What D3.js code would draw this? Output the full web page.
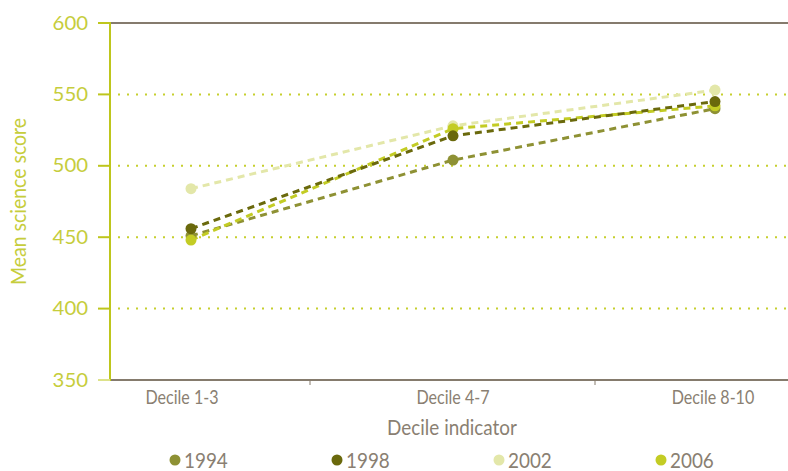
<!DOCTYPE html>
<html><head><meta charset="utf-8">
<script src="https://cdn.jsdelivr.net/npm/d3@7"></script>
<style>body{margin:0;background:#fff}svg{display:block}</style>
</head><body><svg id="c" width="788" height="471"></svg>
<script>
const categories = ["Decile 1-3", "Decile 4-7", "Decile 8-10"];
const years = ["1994", "1998", "2002", "2006"];
const v1994 = [451, 504, 540];
const v1998 = [456, 521, 545];
const v2002 = [484, 528, 553];
const v2006 = [448, 526, 542];
const yTicks = [350, 400, 450, 500, 550, 600];
const colors = {"1994":"#8e9134","1998":"#6a690c","2002":"#e3e7a9","2006":"#c3cc24"};
const seriesValues = {"1994":v1994,"1998":v1998,"2002":v2002,"2006":v2006};
const drawOrder = ["2002","1994","2006","1998"];

const svg = d3.select("#c");
const font = "Lato, 'Open Sans', sans-serif";
const L = 110, R = 788, T = 23, B = 380;
const y = d3.scaleLinear().domain([350, 600]).range([B, T]);
const x = d3.scalePoint().domain(categories).range([191, 715]);
const xb = d3.scaleBand().domain(categories).range([25, 880]);

// gridlines
svg.append("g").selectAll("line").data(yTicks.filter(t => t > 350 && t < 600)).join("line")
  .attr("x1", L + 8).attr("x2", R).attr("y1", d => y(d)).attr("y2", d => y(d))
  .attr("stroke", "#c6cf2e").attr("stroke-width", 2).attr("stroke-dasharray", "2 7");

// top line
svg.append("line").attr("x1", L).attr("x2", R).attr("y1", T).attr("y2", T)
  .attr("stroke", "#857b6d").attr("stroke-width", 2);
// bottom axis
svg.append("line").attr("x1", L).attr("x2", R).attr("y1", B).attr("y2", B)
  .attr("stroke", "#857b6d").attr("stroke-width", 2);
// x ticks
svg.append("g").selectAll("line").data(categories.slice(1)).join("line")
  .attr("x1", d => xb(d)).attr("x2", d => xb(d)).attr("y1", B).attr("y2", B + 5)
  .attr("stroke", "#857b6d").attr("stroke-width", 1);
// y axis
svg.append("line").attr("x1", L).attr("x2", L).attr("y1", T - 1).attr("y2", B + 1)
  .attr("stroke", "#bec61d").attr("stroke-width", 2);
svg.append("g").selectAll("line").data(yTicks).join("line")
  .attr("x1", 98).attr("x2", L).attr("y1", d => y(d)).attr("y2", d => y(d))
  .attr("stroke", d => d === 350 ? "#dde28a" : "#bec61d").attr("stroke-width", 2);
svg.append("g").selectAll("text").data(yTicks).join("text")
  .attr("transform", d => `translate(88,${y(d) + 6.5}) scale(1.1,1)`).attr("text-anchor", "end")
  .attr("font-family", font).attr("font-size", 18.5).attr("fill", "#c6cd3c")
  .text(d => d);

// x labels
svg.append("g").selectAll("text").data(categories).join("text")
  .attr("transform", (d, i) => `translate(${x(d) + (i === 0 ? -9 : (i === 2 ? -2 : 0))},404) scale(0.87,1)`)
  .attr("text-anchor", "middle").attr("font-family", font).attr("font-size", 18.5)
  .attr("fill", "#8a7f72").text(d => d);

svg.append("text").attr("transform", "translate(452,435) scale(0.9,1)").attr("text-anchor", "middle")
  .attr("font-family", font).attr("font-size", 21).attr("fill", "#8a7f72")
  .text("Decile indicator");
svg.append("text").attr("transform", `translate(26,${(T + B) / 2}) rotate(-90) scale(0.95,1)`)
  .attr("text-anchor", "middle").attr("font-family", font).attr("font-size", 20.5)
  .attr("fill", "#c6cd3c").text("Mean science score");

// series
const line = d3.line().x((d, i) => x(categories[i])).y(d => y(d));
drawOrder.forEach(yr => {
  const vals = seriesValues[yr];
  svg.append("path").datum(vals).attr("d", line).attr("fill", "none")
    .attr("stroke", colors[yr]).attr("stroke-width", 3).attr("stroke-dasharray", "7 5");
});
drawOrder.forEach(yr => {
  const vals = seriesValues[yr];
  svg.append("g").selectAll("circle").data(vals).join("circle")
    .attr("cx", (d, i) => x(categories[i])).attr("cy", d => y(d)).attr("r", 5.5)
    .attr("fill", colors[yr]);
});

// legend
const lg = d3.scalePoint().domain(years).range([175, 661]);
const leg = svg.append("g").selectAll("g").data(years).join("g")
  .attr("transform", d => `translate(${lg(d)},460)`);
leg.append("circle").attr("r", 5.5).attr("fill", d => colors[d]);
leg.append("text").attr("transform", "translate(9,7.5) scale(0.9,1)").attr("font-family", font)
  .attr("font-size", 21).attr("fill", "#8a7f72").text(d => d);
</script></body></html>
